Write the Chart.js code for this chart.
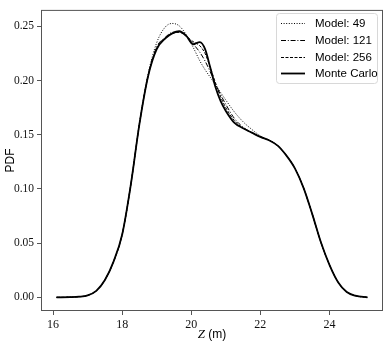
<!DOCTYPE html>
<html>
<head>
<meta charset="utf-8">
<script src="https://cdn.jsdelivr.net/npm/chart.js@4"></script>
<style>
  html, body { margin: 0; padding: 0; background: #fff; }
  #wrap { width: 390px; height: 344px; }
</style>
</head>
<body>
<div id="wrap"><canvas id="pdfChart" width="390" height="344"></canvas></div>
<script>
// Z grid (m) shared by all curves
const zGrid = [16.1, 16.5, 16.75, 17.0, 17.25, 17.5, 17.75, 18.0, 18.25, 18.5, 18.75,
  19.0, 19.25, 19.45, 19.65, 19.85, 20.05, 20.25, 20.4, 20.55, 20.7,
  20.85, 21.0, 21.25, 21.5, 21.75, 22.0, 22.25, 22.5, 22.75, 23.0,
  23.25, 23.5, 23.75, 24.0, 24.25, 24.5, 24.75, 25.1];

const pdfMonteCarlo = [0, 0.0002, 0.0006, 0.0018, 0.006, 0.016, 0.033, 0.058, 0.104, 0.160, 0.204,
  0.229, 0.239, 0.2435, 0.2455, 0.2415, 0.2335, 0.2355, 0.229, 0.212, 0.194,
  0.181, 0.172, 0.161, 0.156, 0.152, 0.148, 0.145, 0.140, 0.131, 0.119,
  0.101, 0.077, 0.051, 0.030, 0.014, 0.005, 0.0015, 0];

const pdfModel49 = [0, 0.0002, 0.0006, 0.0018, 0.006, 0.016, 0.033, 0.058, 0.104, 0.161, 0.206,
  0.235, 0.2495, 0.2527, 0.2505, 0.2425, 0.231, 0.218, 0.210, 0.203, 0.196,
  0.189, 0.182, 0.171, 0.162, 0.155, 0.149, 0.145, 0.140, 0.131, 0.119,
  0.101, 0.077, 0.051, 0.030, 0.014, 0.005, 0.0015, 0];

const pdfModel121 = [0, 0.0002, 0.0006, 0.0018, 0.006, 0.016, 0.033, 0.058, 0.104, 0.160, 0.205,
  0.231, 0.240, 0.2445, 0.2450, 0.241, 0.234, 0.226, 0.218, 0.208, 0.197,
  0.187, 0.178, 0.165, 0.157, 0.152, 0.148, 0.145, 0.140, 0.131, 0.119,
  0.101, 0.077, 0.051, 0.030, 0.014, 0.005, 0.0015, 0];

const pdfModel256 = [0, 0.0002, 0.0006, 0.0018, 0.006, 0.016, 0.033, 0.058, 0.104, 0.160, 0.204,
  0.230, 0.2395, 0.2435, 0.2445, 0.241, 0.236, 0.232, 0.225, 0.212, 0.198,
  0.185, 0.175, 0.163, 0.156, 0.152, 0.148, 0.145, 0.140, 0.131, 0.119,
  0.101, 0.077, 0.051, 0.030, 0.014, 0.005, 0.0015, 0];

const seriesLabels = ['Model: 49', 'Model: 121', 'Model: 256', 'Monte Carlo'];
const xTicks = [16, 18, 20, 22, 24];
const yTicks = [0, 0.05, 0.10, 0.15, 0.20, 0.25];

const toPoints = arr => zGrid.map((z, i) => ({ x: z, y: arr[i] }));

function lineSet(label, values, dash, width) {
  return {
    label: label,
    data: toPoints(values),
    borderColor: '#000',
    borderWidth: width,
    borderDash: dash,
    pointRadius: 0,
    pointStyle: 'line',
    cubicInterpolationMode: 'monotone',
    fill: false
  };
}

// frame, legend box and axis titles
const decorations = {
  id: 'decorations',
  afterDraw(chart) {
    const ctx = chart.ctx;
    const a = chart.chartArea;
    ctx.save();
    ctx.strokeStyle = '#555';
    ctx.lineWidth = 1;
    ctx.setLineDash([]);
    ctx.strokeRect(a.left + 0.5, a.top + 0.5, a.right - a.left - 1, a.bottom - a.top - 1);

    // legend
    const bx = 276, by = 13, bw = 101, bh = 70;
    ctx.beginPath();
    ctx.roundRect(bx + 0.5, by + 0.5, bw, bh, 3);
    ctx.fillStyle = 'rgba(255,255,255,0.85)';
    ctx.fill();
    ctx.strokeStyle = '#d8d8d8';
    ctx.stroke();
    ctx.font = '11.5px "Liberation Sans"';
    ctx.fillStyle = '#000';
    ctx.textBaseline = 'middle';
    const rows = [23, 40, 57, 73];
    chart.data.datasets.forEach((ds, i) => {
      const y = rows[i];
      ctx.beginPath();
      ctx.strokeStyle = '#000';
      ctx.lineWidth = ds.borderWidth;
      ctx.setLineDash(ds.borderDash || []);
      ctx.moveTo(281, y + 0.5);
      ctx.lineTo(305, y + 0.5);
      ctx.stroke();
      ctx.setLineDash([]);
      ctx.fillText(ds.label, 315, y + 0.5);
    });

    // axis titles
    const cx = (a.left + a.right) / 2;
    ctx.textBaseline = 'alphabetic';
    ctx.font = 'italic 13px "Liberation Serif"';
    const wZ = ctx.measureText('Z').width;
    ctx.font = '12px "Liberation Sans"';
    const wRest = ctx.measureText(' (m)').width;
    const x0 = cx - (wZ + wRest) / 2;
    ctx.font = 'italic 13px "Liberation Serif"';
    ctx.fillText('Z', x0, 338);
    ctx.font = '12px "Liberation Sans"';
    ctx.fillText(' (m)', x0 + wZ, 338);

    ctx.translate(11, (a.top + a.bottom) / 2);
    ctx.rotate(-Math.PI / 2);
    ctx.textAlign = 'center';
    ctx.textBaseline = 'middle';
    ctx.font = '12px "Liberation Sans"';
    ctx.fillText('PDF', 0, 0);
    ctx.restore();
  }
};

new Chart(document.getElementById('pdfChart'), {
  type: 'line',
  data: {
    datasets: [
      lineSet(seriesLabels[0], pdfModel49, [1, 1.6], 1),
      lineSet(seriesLabels[1], pdfModel121, [5, 1.8, 1, 1.8], 1),
      lineSet(seriesLabels[2], pdfModel256, [3, 1.5], 1),
      lineSet(seriesLabels[3], pdfMonteCarlo, [], 1.8)
    ]
  },
  options: {
    responsive: false,
    animation: false,
    events: [],
    layout: { padding: { top: 6, right: 7, left: 0, bottom: 0 } },
    plugins: {
      legend: { display: false },
      tooltip: { enabled: false }
    },
    scales: {
      x: {
        type: 'linear',
        min: 15.65,
        max: 25.55,
        afterBuildTicks: s => { s.ticks = xTicks.map(v => ({ value: v })); },
        afterFit: s => { s.height = 33; },
        border: { display: false },
        grid: { drawOnChartArea: false, color: '#555', tickLength: 4 },
        ticks: {
          color: '#111',
          padding: 3,
          maxRotation: 0,
          font: { family: '"Liberation Serif"', size: 12 },
          callback: v => String(v)
        }
      },
      y: {
        min: -0.0126,
        max: 0.2652,
        afterBuildTicks: s => { s.ticks = yTicks.map(v => ({ value: v })); },
        afterFit: s => { s.width = 41; },
        border: { display: false },
        grid: { drawOnChartArea: false, color: '#555', tickLength: 4 },
        ticks: {
          color: '#111',
          padding: 3,
          font: { family: '"Liberation Serif"', size: 11.5 },
          callback: v => v.toFixed(2)
        }
      }
    }
  },
  plugins: [decorations]
});
</script>
</body>
</html>
